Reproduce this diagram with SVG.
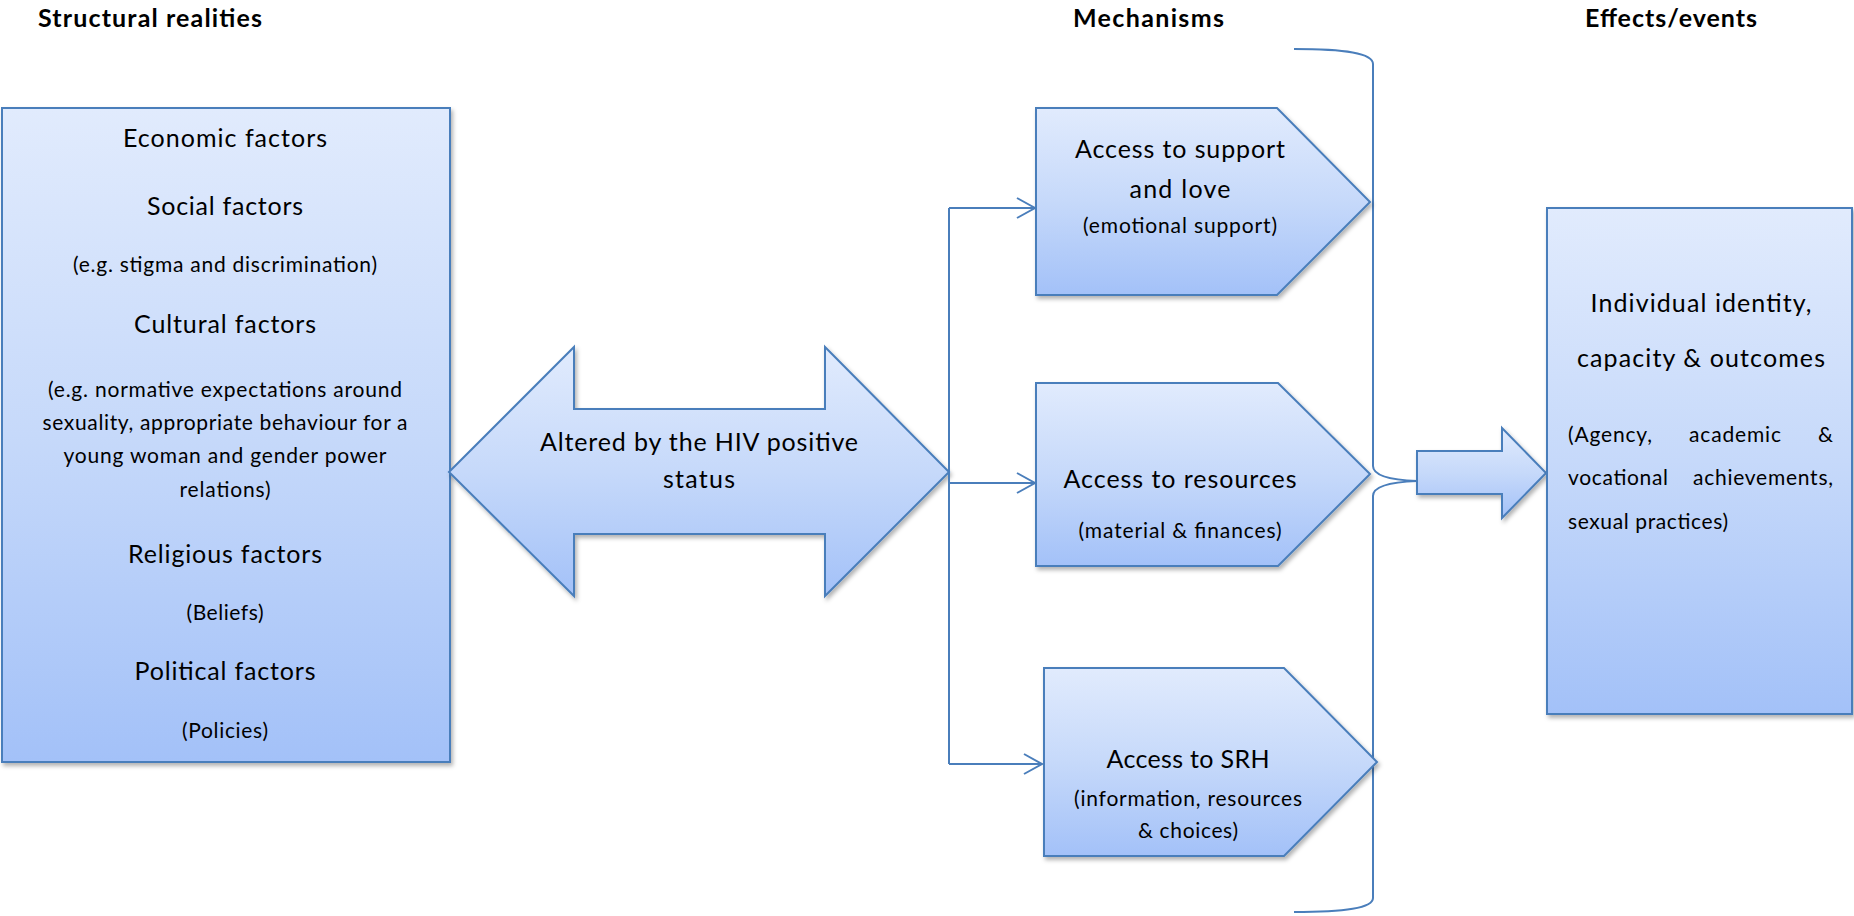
<svg xmlns="http://www.w3.org/2000/svg" width="1854" height="916" viewBox="0 0 1854 916">
<defs>
  <linearGradient id="blueGrad" x1="0" y1="0" x2="0" y2="1">
    <stop offset="0" stop-color="#e1ebfd"/>
    <stop offset="0.5" stop-color="#c6d9fa"/>
    <stop offset="1" stop-color="#a3c1f8"/>
  </linearGradient>
  <filter id="shadow" x="-5%" y="-5%" width="115%" height="115%">
    <feDropShadow dx="2" dy="3" stdDeviation="2" flood-color="#000" flood-opacity="0.3"/>
  </filter>
  <marker id="openArrow" markerUnits="userSpaceOnUse" markerWidth="22" markerHeight="24" refX="19" refY="11" orient="auto">
    <path d="M1,1 L19,11 L1,21" fill="none" stroke="#4a7ebb" stroke-width="2"/>
  </marker>
  <style>
    .shape { fill: url(#blueGrad); stroke: #4a7ebb; stroke-width: 2; filter: url(#shadow); }
    .line { fill: none; stroke: #4a7ebb; stroke-width: 2; }
    text { font-family: Lato, "Liberation Sans", sans-serif; fill: #000; }
    .title { font-size: 25px; font-weight: bold; }
    .big { font-size: 25px; text-anchor: middle; }
    .small { font-size: 21px; text-anchor: middle; }
    .just { font-size: 21px; }
  </style>
</defs>
<rect width="1854" height="916" fill="#ffffff"/>

<g id="titles">
  <text class="title" x="38" y="27" textLength="224">Structural realities</text>
  <text class="title" x="1073" y="27" textLength="151">Mechanisms</text>
  <text class="title" x="1585" y="27" textLength="172">Effects/events</text>
</g>

<g id="structural-realities">
  <rect class="shape" x="2" y="108" width="448" height="654"/>
  <text class="big" x="225" y="147" textLength="204">Economic factors</text>
  <text class="big" x="225" y="215" textLength="156">Social factors</text>
  <text class="small" x="225" y="272" textLength="304">(e.g. stigma and discrimination)</text>
  <text class="big" x="225" y="333" textLength="182">Cultural factors</text>
  <text class="small" x="225" y="397" textLength="354">(e.g. normative expectations around</text>
  <text class="small" x="225" y="430" textLength="365">sexuality, appropriate behaviour for a</text>
  <text class="small" x="225" y="463" textLength="323">young woman and gender power</text>
  <text class="small" x="225" y="497" textLength="91">relations)</text>
  <text class="big" x="225" y="563" textLength="194">Religious factors</text>
  <text class="small" x="225" y="620" textLength="77">(Beliefs)</text>
  <text class="big" x="225" y="680" textLength="181">Political factors</text>
  <text class="small" x="225" y="738" textLength="86">(Policies)</text>
</g>

<g id="hiv-status">
  <path class="shape" d="M449,472 L574,347 L574,409 L825,409 L825,347 L949,472 L825,596 L825,534 L574,534 L574,596 Z"/>
  <text class="big" x="699" y="451" textLength="318">Altered by the HIV positive</text>
  <text class="big" x="699" y="488" textLength="72">status</text>
</g>

<g id="connectors">
  <path class="line" d="M949,208 L949,764"/>
  <path class="line" d="M949,208 L1035,208" marker-end="url(#openArrow)"/>
  <path class="line" d="M949,483 L1035,483" marker-end="url(#openArrow)"/>
  <path class="line" d="M949,764 L1042,764" marker-end="url(#openArrow)"/>
  <path class="line" d="M1294,49 C1345,49 1373,53 1373,64 L1373,466 C1373,476 1392,480 1417,481 C1392,482 1373,486 1373,496 L1373,898 C1373,908 1345,912 1294,912"/>
</g>

<g id="support">
  <path class="shape" d="M1036,108 L1277,108 L1370,202 L1277,295 L1036,295 Z"/>
  <text class="big" x="1180" y="158" textLength="210">Access to support</text>
  <text class="big" x="1180" y="198" textLength="101">and love</text>
  <text class="small" x="1180" y="233" textLength="194">(emotional support)</text>
</g>

<g id="resources">
  <path class="shape" d="M1036,383 L1278,383 L1370,474 L1278,566 L1036,566 Z"/>
  <text class="big" x="1180" y="488" textLength="233">Access to resources</text>
  <text class="small" x="1180" y="538" textLength="203">(material &amp; finances)</text>
</g>

<g id="srh">
  <path class="shape" d="M1044,668 L1284,668 L1377,762 L1284,856 L1044,856 Z"/>
  <text class="big" x="1188" y="768" textLength="163">Access to SRH</text>
  <text class="small" x="1188" y="806" textLength="228">(information, resources</text>
  <text class="small" x="1188" y="838" textLength="100">&amp; choices)</text>
</g>

<g id="to-effects">
  <path class="shape" d="M1417,451 L1502,451 L1502,428 L1546,473 L1502,518 L1502,494 L1417,494 Z"/>
</g>

<g id="effects">
  <rect class="shape" x="1547" y="208" width="305" height="506"/>
  <text class="big" x="1701" y="312" textLength="221">Individual identity,</text>
  <text class="big" x="1701" y="367" textLength="248">capacity &amp; outcomes</text>
  <text class="just" x="1568" y="442" textLength="84">(Agency,</text>
  <text class="just" x="1689" y="442" textLength="92">academic</text>
  <text class="just" x="1833" y="442" text-anchor="end">&amp;</text>
  <text class="just" x="1568" y="485" textLength="100">vocational</text>
  <text class="just" x="1693" y="485" textLength="140">achievements,</text>
  <text class="just" x="1568" y="529" textLength="160">sexual practices)</text>
</g>
</svg>
